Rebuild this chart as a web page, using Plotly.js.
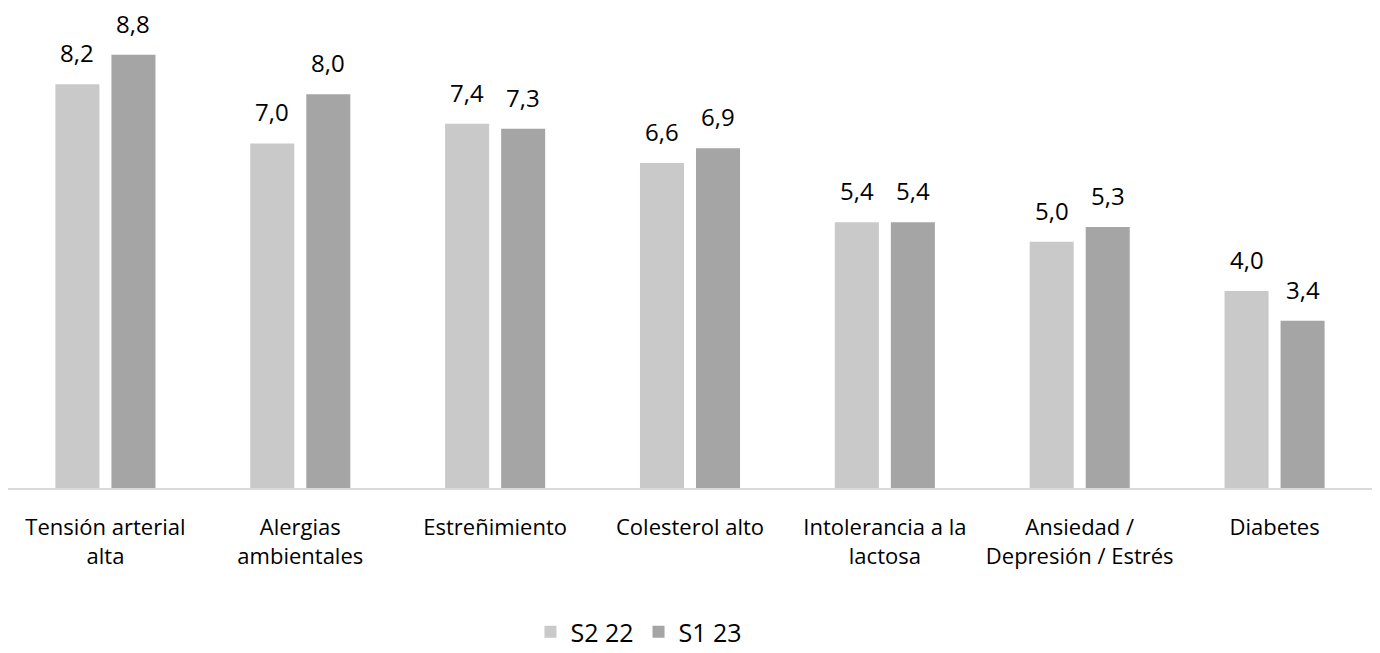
<!DOCTYPE html>
<html>
<head>
<meta charset="utf-8">
<script src="https://cdn.plot.ly/plotly-3.0.1.min.js"></script>
<style>html,body{margin:0;padding:0;background:#fff;}#chart{width:1380px;height:653px;}</style>
</head>
<body>
<div id="chart"></div>
<script>
const categories = ["Tensión arterial<br>alta", "Alergias<br>ambientales", "Estreñimiento", "Colesterol alto", "Intolerancia a la<br>lactosa", "Ansiedad /<br>Depresión / Estrés", "Diabetes"];
const seriesNames = ["S2 22", "S1 23"];
const s2_22 = [8.2, 7.0, 7.4, 6.6, 5.4, 5.0, 4.0];
const s1_23 = [8.8, 8.0, 7.3, 6.9, 5.4, 5.3, 3.4];
const colors = ["#c9c9c9", "#a5a5a5"];

const fmt = v => v.toFixed(1).replace('.', ',');
const FONT = "Open Sans, Liberation Sans, sans-serif";
const series = [s2_22, s1_23];

const traces = series.map((vals, i) => ({
  type: 'bar',
  name: seriesNames[i],
  x: categories,
  y: vals,
  marker: {color: colors[i]},
  hoverinfo: 'none'
}));

const annotations = [];
series.forEach((vals, i) => {
  vals.forEach((v, j) => {
    annotations.push({
      x: categories[j], y: v, xref: 'x', yref: 'y',
      text: fmt(v), showarrow: false,
      xanchor: 'center', yanchor: 'bottom',
      xshift: i === 0 ? -28 : 28, yshift: 13,
      font: {family: FONT, size: 24, color: '#000'}
    });
  });
});

const layout = {
  width: 1380, height: 653,
  margin: {l: 8, r: 8, t: 10, b: 164.5},
  paper_bgcolor: '#fff', plot_bgcolor: '#fff',
  barmode: 'group',
  bargap: 0.425,
  bargroupgap: 0.214,
  showlegend: true,
  legend: {orientation: 'h', x: 0.463, xanchor: 'center', xref: 'container',
           y: 0.032, yanchor: 'middle', yref: 'container', itemwidth: 30,
           font: {family: FONT, size: 25, color: '#000'}, traceorder: 'normal'},
  xaxis: {showline: true, linecolor: '#d9d9d9', linewidth: 2, ticks: '', showgrid: false, automargin: false,
          tickfont: {family: FONT, size: 22, color: '#000'}, ticklabelstandoff: 19, fixedrange: true},
  yaxis: {range: [0, 9.71], showticklabels: false, showgrid: false, zeroline: false, showline: false, fixedrange: true, automargin: false},
  annotations: annotations,
  font: {family: FONT}
};

Plotly.newPlot('chart', traces, layout, {displayModeBar: false, staticPlot: true});
</script>
</body>
</html>
